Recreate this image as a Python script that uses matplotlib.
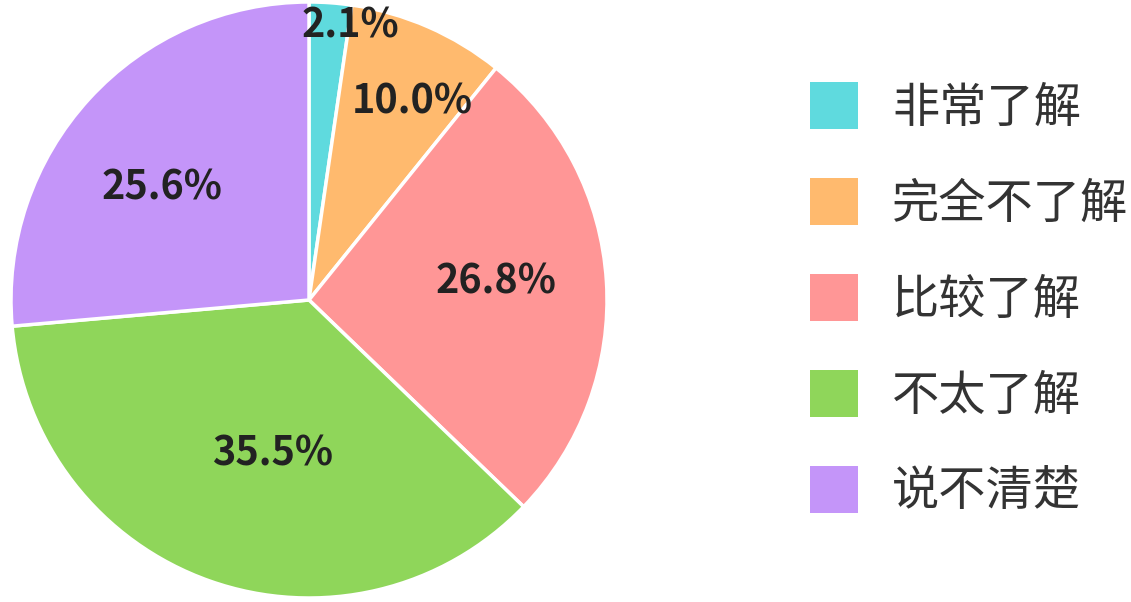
import numpy as np
import matplotlib.pyplot as plt
from matplotlib.patches import Patch

plt.rcParams['font.family'] = ['Noto Sans CJK SC', 'DejaVu Sans']

# Data
categories = ["非常了解", "完全不了解", "比较了解", "不太了解", "说不清楚"]
# slice sizes as drawn in the picture
slice_sizes = [2.3, 8.5, 26.4, 36.4, 26.4]
# percentages printed on the slices
pct_labels = ["2.1%", "10.0%", "26.8%", "35.5%", "25.6%"]
colors = ["#5fdade", "#ffba6e", "#ff9696", "#8fd65a", "#c495f9"]

# label placement tweaks (radius fraction, angle shift in degrees)
label_r = [0.93, 0.75, 0.63, 0.53, 0.62]
label_shift = [-4.4, -3.8, 1.9, 6.2, 5.2]

fig = plt.figure(figsize=(11.31, 6.02), dpi=100)
ax = fig.add_axes([11 / 1131, 4 / 602, 596 / 1131, 596 / 602])

wedges, _ = ax.pie(
    slice_sizes,
    colors=colors,
    startangle=90,
    counterclock=False,
    radius=1,
    wedgeprops=dict(edgecolor="white", linewidth=2.5),
)

for w, lab, r, s in zip(wedges, pct_labels, label_r, label_shift):
    ang = np.deg2rad((w.theta1 + w.theta2) / 2 + s)
    ax.text(r * np.cos(ang), r * np.sin(ang), lab,
            ha="center", va="center", fontsize=28.5,
            fontweight="bold", color="#222222")

ax.set_xlim(-1, 1)
ax.set_ylim(-1, 1)
ax.set_aspect("equal")
ax.axis("off")

handles = [Patch(facecolor=c, edgecolor="none") for c in colors]
leg = fig.legend(
    handles,
    categories,
    loc="upper left",
    bbox_to_anchor=(810 / 1131, 1 - 82 / 602),
    frameon=False,
    fontsize=34,
    handlelength=1.02,
    handleheight=1.15,
    handletextpad=0.72,
    labelspacing=0.965,
    borderaxespad=0,
    borderpad=0,
)
for txt in leg.get_texts():
    txt.set_color("#333333")

fig.savefig("out.png", dpi=100)
